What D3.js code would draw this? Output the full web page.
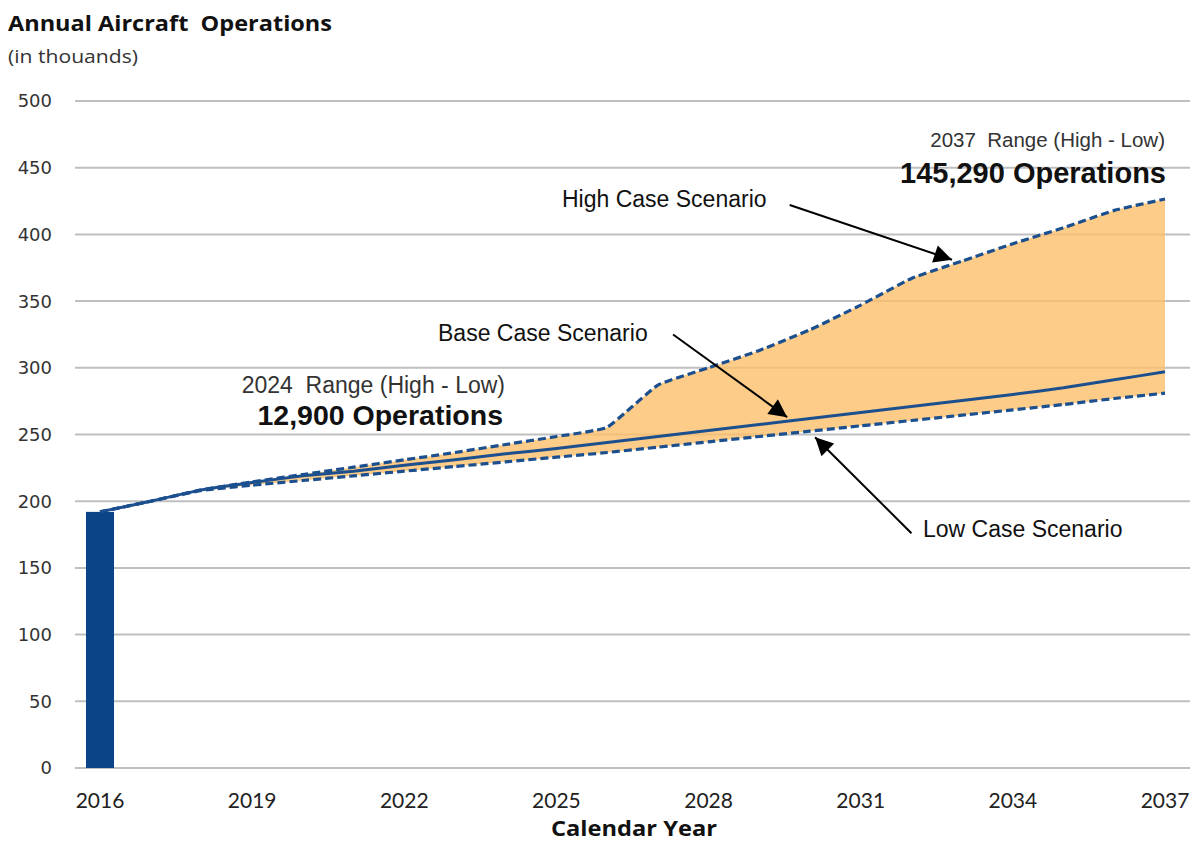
<!DOCTYPE html>
<html>
<head>
<meta charset="utf-8">
<script src="https://cdn.jsdelivr.net/npm/d3@7"></script>
<style>
  body { margin: 0; background: #fff; }
  svg { display: block; }
</style>
</head>
<body>
<script>
// forecast years and scenarios (thousands of operations)
const years = [2016, 2017, 2018, 2019, 2020, 2021, 2022, 2023, 2024, 2025, 2026,
  2027, 2028, 2029, 2030, 2031, 2032, 2033, 2034, 2035, 2036, 2037]
const highCase = [192, 200, 208.5, 214.5, 220, 225.5, 231, 236.5, 242.5, 248.5, 255.5,
  287, 300, 313, 328.5, 347, 367, 380, 393, 405, 418, 426.5]
const baseCase = [192, 200, 208.5, 214, 219, 222.5, 227, 231, 235.5, 239.5, 244,
  248.5, 253, 257.5, 262, 266.5, 271, 275.5, 280, 285, 291, 297]
const lowCase = [192, 200, 208, 212, 215.5, 219, 222.5, 226, 229.5, 233, 236.5,
  240.5, 244.5, 248.5, 252.5, 256.5, 260.5, 264.5, 268.5, 272.5, 277, 281]
// historic (actual) year shown as a bar
const actualYears = [2016]
const actualValues = [192]

const yTicks = [0, 50, 100, 150, 200, 250, 300, 350, 400, 450, 500]
const xTicks = [2016, 2019, 2022, 2025, 2028, 2031, 2034, 2037]

const width = 1193, height = 844
const blue = '#1c4f8e'

const svg = d3.select('body').append('svg')
  .attr('width', width)
  .attr('height', height)

const x = d3.scaleLinear().domain([2016, 2037]).range([100, 1165])
const y = d3.scaleLinear().domain([0, 500]).range([768, 101])

// arrow head
svg.append('defs').append('marker')
  .attr('id', 'arrow')
  .attr('viewBox', '0 0 10 10')
  .attr('refX', 10).attr('refY', 5)
  .attr('markerWidth', 10).attr('markerHeight', 9)
  .attr('markerUnits', 'strokeWidth')
  .attr('orient', 'auto')
  .append('path')
  .attr('d', 'M0,0L10,5L0,10Z')
  .attr('fill', '#000')

// gridlines
svg.append('g')
  .selectAll('line')
  .data(yTicks)
  .join('line')
  .attr('x1', 75).attr('x2', 1190)
  .attr('y1', d => y(d)).attr('y2', d => y(d))
  .attr('stroke', '#bfbfbf')
  .attr('stroke-width', 2)

// y tick labels
svg.append('g')
  .selectAll('text')
  .data(yTicks)
  .join('text')
  .attr('x', 52)
  .attr('y', d => y(d))
  .attr('dy', '0.36em')
  .attr('text-anchor', 'end')
  .attr('font-family', 'DejaVu Sans')
  .attr('font-size', 18)
  .attr('fill', '#333')
  .text(d => d)

// x tick labels
svg.append('g')
  .selectAll('text')
  .data(xTicks)
  .join('text')
  .attr('x', d => x(d))
  .attr('y', 808)
  .attr('text-anchor', 'middle')
  .attr('font-family', 'Lato')
  .attr('font-size', 21)
  .attr('fill', '#222')
  .text(d => d)

// range between high and low
const rows = years.map((yr, i) => ({ yr, hi: highCase[i], base: baseCase[i], lo: lowCase[i] }))
const curve = d3.curveCardinal.tension(0.6)

svg.append('path')
  .datum(rows)
  .attr('d', d3.area()
    .x(d => x(d.yr))
    .y0(d => y(d.lo))
    .y1(d => y(d.hi))
    .curve(curve))
  .attr('fill', '#fcbf6a')
  .attr('fill-opacity', 0.8)

// actual bar
svg.append('g')
  .selectAll('rect')
  .data(actualYears)
  .join('rect')
  .attr('x', d => x(d) - 14)
  .attr('width', 28)
  .attr('y', (d, i) => y(actualValues[i]))
  .attr('height', (d, i) => y(0) - y(actualValues[i]))
  .attr('fill', '#0b4586')

const line = key => d3.line()
  .x(d => x(d.yr))
  .y(d => y(d[key]))
  .curve(curve)

svg.append('path').datum(rows)
  .attr('d', line('lo'))
  .attr('fill', 'none').attr('stroke', blue)
  .attr('stroke-width', 3.2).attr('stroke-dasharray', '8,4')

svg.append('path').datum(rows)
  .attr('d', line('hi'))
  .attr('fill', 'none').attr('stroke', blue)
  .attr('stroke-width', 3.2).attr('stroke-dasharray', '8,4')

svg.append('path').datum(rows)
  .attr('d', line('base'))
  .attr('fill', 'none').attr('stroke', blue)
  .attr('stroke-width', 3)

// titles
svg.append('text')
  .attr('x', 8).attr('y', 31)
  .attr('font-family', 'Open Sans').attr('font-weight', 'bold')
  .attr('font-size', 22).attr('fill', '#111')
  .attr('textLength', 324).attr('lengthAdjust', 'spacingAndGlyphs')
  .style('white-space', 'pre')
  .text('Annual Aircraft  Operations')

svg.append('text')
  .attr('x', 8).attr('y', 63)
  .attr('font-family', 'Open Sans')
  .attr('font-size', 18).attr('fill', '#333')
  .attr('textLength', 130).attr('lengthAdjust', 'spacingAndGlyphs')
  .text('(in thouands)')

svg.append('text')
  .attr('x', 551).attr('y', 836)
  .attr('font-family', 'Open Sans').attr('font-weight', 'bold')
  .attr('font-size', 21).attr('fill', '#111')
  .attr('textLength', 166).attr('lengthAdjust', 'spacingAndGlyphs')
  .text('Calendar Year')

// annotations
const note = (tx, ty, txt, size, weight, anchor) => svg.append('text')
  .attr('x', tx).attr('y', ty)
  .attr('text-anchor', anchor || 'start')
  .attr('font-family', 'Liberation Sans, Arial')
  .attr('font-size', size)
  .attr('font-weight', weight || 'normal')
  .attr('fill', '#111')
  .style('white-space', 'pre')
  .text(txt)

note(1165, 147, '2037  Range (High - Low)', 20.5, 'normal', 'end').attr('fill', '#333')
note(1166, 183, '145,290 Operations', 29, 'bold', 'end')
note(505, 393, '2024  Range (High - Low)', 23, 'normal', 'end').attr('fill', '#333')
note(503, 425, '12,900 Operations', 28.5, 'bold', 'end')
note(562, 207, 'High Case Scenario', 23)
note(438, 341, 'Base Case Scenario', 23)
note(923, 537, 'Low Case Scenario', 23)

const arrows = [
  [[2029.6, 422], [2032.8, 381]],
  [[2027.3, 325], [2029.55, 263]],
  [[2032.0, 176], [2030.1, 248]]
]
svg.append('g')
  .selectAll('line')
  .data(arrows)
  .join('line')
  .attr('x1', d => x(d[0][0])).attr('y1', d => y(d[0][1]))
  .attr('x2', d => x(d[1][0])).attr('y2', d => y(d[1][1]))
  .attr('stroke', '#000')
  .attr('stroke-width', 2)
  .attr('marker-end', 'url(#arrow)')
</script>
</body>
</html>
